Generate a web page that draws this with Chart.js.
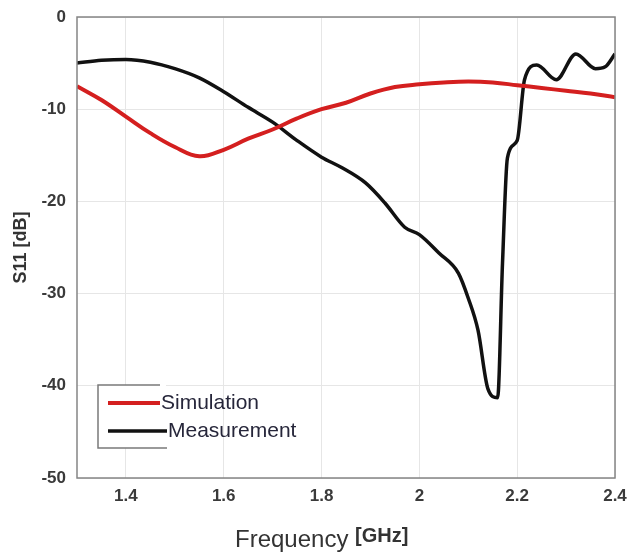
<!DOCTYPE html>
<html>
<head>
<meta charset="utf-8">
<script src="https://cdn.jsdelivr.net/npm/chart.js@4.4.1/dist/chart.umd.min.js"></script>
<style>
  html, body { margin: 0; padding: 0; background: #fff; }
  #wrap { width: 630px; height: 556px; }
</style>
</head>
<body>
<div id="wrap"><canvas id="s11" width="630" height="556"></canvas></div>
<script>
// frequency in GHz, S11 in dB
const simFreq = [1.30, 1.35, 1.40, 1.45, 1.50, 1.55, 1.60, 1.65, 1.70, 1.75, 1.80, 1.85,
                 1.90, 1.95, 2.00, 2.05, 2.10, 2.15, 2.20, 2.25, 2.30, 2.35, 2.40];
const simS11 = [-7.5, -9.0, -10.8, -12.6, -14.1, -15.1, -14.4, -13.2, -12.2, -11.0, -10.0, -9.3,
                -8.3, -7.6, -7.3, -7.1, -7.0, -7.1, -7.4, -7.7, -8.0, -8.3, -8.7];

const measFreq = [1.30, 1.35, 1.40, 1.45, 1.50, 1.55, 1.60, 1.65, 1.70, 1.75, 1.80, 1.84,
                  1.89, 1.93, 1.97, 2.00, 2.04, 2.08, 2.10, 2.12, 2.14, 2.16, 2.17, 2.18,
                  2.20, 2.215, 2.24, 2.28, 2.32, 2.36, 2.38, 2.40];
const measS11 = [-5.0, -4.7, -4.6, -4.9, -5.6, -6.6, -8.1, -9.8, -11.4, -13.4, -15.2, -16.3,
                 -18.0, -20.2, -22.8, -23.6, -25.6, -27.8, -30.5, -34.0, -40.3, -41.3, -26.7, -15.3,
                 -13.4, -6.8, -5.2, -6.8, -4.0, -5.6, -5.4, -4.0];

const xTicks = [1.4, 1.6, 1.8, 2.0, 2.2, 2.4];
const yTicks = [-50, -40, -30, -20, -10, 0];

const toPoints = (xs, ys) => xs.map((x, i) => ({ x: x, y: ys[i] }));

const tickFont = { family: 'Liberation Sans', size: 17, weight: 'bold' };

// box round the plot, the legend and both axis titles
const decorations = {
    id: 'decorations',
    afterDraw(chart) {
        const ctx = chart.ctx;
        const a = chart.chartArea;
        ctx.save();

        ctx.strokeStyle = '#858585';
        ctx.lineWidth = 1.5;
        ctx.strokeRect(a.left, a.top, a.right - a.left, a.bottom - a.top);

        // legend
        const lx = 98, ly = 385, lh = 63;
        ctx.fillStyle = '#fff';
        ctx.fillRect(lx, ly, 68, lh);
        ctx.strokeStyle = '#7a7a7a';
        ctx.lineWidth = 1.5;
        ctx.beginPath();
        ctx.moveTo(160, ly);
        ctx.lineTo(lx, ly);
        ctx.lineTo(lx, ly + lh);
        ctx.lineTo(167, ly + lh);
        ctx.stroke();

        const rows = [{ y: 403, x0: 108, x1: 160 }, { y: 431, x0: 108, x1: 167 }];
        chart.data.datasets.forEach((ds, i) => {
            const r = rows[i];
            ctx.strokeStyle = ds.borderColor;
            ctx.lineWidth = ds.borderWidth;
            ctx.beginPath();
            ctx.moveTo(r.x0, r.y);
            ctx.lineTo(r.x1, r.y);
            ctx.stroke();
            ctx.fillStyle = '#26263a';
            ctx.font = '21px "Liberation Sans"';
            ctx.textBaseline = 'middle';
            ctx.textAlign = 'left';
            ctx.fillText(ds.label, r.x1 + 1, r.y);
        });

        // y title
        ctx.save();
        ctx.translate(21, (a.top + a.bottom) / 2);
        ctx.rotate(-Math.PI / 2);
        ctx.fillStyle = '#333';
        ctx.font = 'bold 18px "Liberation Sans"';
        ctx.textAlign = 'center';
        ctx.textBaseline = 'middle';
        ctx.fillText('S11 [dB]', 0, 0);
        ctx.restore();

        // x title: plain word, bold unit
        ctx.fillStyle = '#333';
        ctx.textBaseline = 'alphabetic';
        ctx.textAlign = 'left';
        ctx.font = '24px "Liberation Sans"';
        ctx.fillText('Frequency', 235, 547);
        const w = ctx.measureText('Frequency ').width;
        ctx.font = 'bold 20px "Liberation Sans"';
        ctx.fillText('[GHz]', 235 + w, 542);

        ctx.restore();
    }
};

new Chart(document.getElementById('s11'), {
    type: 'line',
    data: {
        datasets: [
            {
                label: 'Simulation',
                data: toPoints(simFreq, simS11),
                borderColor: '#d41f1f',
                borderWidth: 4,
                tension: 0.4,
                pointRadius: 0
            },
            {
                label: 'Measurement',
                data: toPoints(measFreq, measS11),
                borderColor: '#111111',
                borderWidth: 3.5,
                cubicInterpolationMode: 'monotone',
                pointRadius: 0
            }
        ]
    },
    options: {
        responsive: false,
        animation: false,
        layout: { padding: { top: 17, right: 15, left: 0, bottom: 0 } },
        plugins: {
            legend: { display: false },
            tooltip: { enabled: false }
        },
        scales: {
            x: {
                type: 'linear',
                min: 1.3,
                max: 2.4,
                afterBuildTicks: scale => { scale.ticks = xTicks.map(v => ({ value: v })); },
                afterFit: scale => {
                    scale.height = 78;
                    scale.paddingLeft = 0;
                    scale.paddingRight = 0;
                },
                grid: { color: '#e6e6e6', drawTicks: false },
                border: { display: false },
                ticks: { font: tickFont, color: '#3a3a3a', padding: 8, maxRotation: 0, callback: v => String(v) }
            },
            y: {
                min: -50,
                max: 0,
                afterBuildTicks: scale => { scale.ticks = yTicks.map(v => ({ value: v })); },
                afterFit: scale => {
                    scale.width = 77;
                    scale.paddingTop = 0;
                    scale.paddingBottom = 0;
                },
                grid: { color: '#e6e6e6', drawTicks: false },
                border: { display: false },
                ticks: { font: tickFont, color: '#3a3a3a', padding: 11, callback: v => String(v) }
            }
        }
    },
    plugins: [decorations]
});
</script>
</body>
</html>
